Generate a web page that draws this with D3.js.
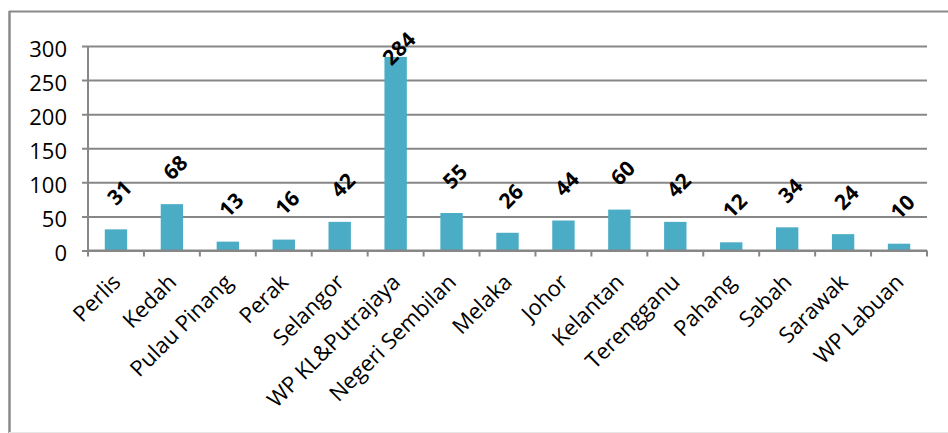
<!DOCTYPE html>
<html>
<head>
<meta charset="utf-8">
<script src="https://cdn.jsdelivr.net/npm/d3@7"></script>
<style>
  html, body { margin: 0; padding: 0; background: #fff; overflow: hidden; }
  svg { display: block; }
  text { font-family: "Open Sans", Lato, sans-serif; fill: #000; }
</style>
</head>
<body>
<svg id="chart" width="948" height="433"></svg>
<script>
// Counts per state
const states = ["Perlis", "Kedah", "Pulau Pinang", "Perak", "Selangor", "WP KL&Putrajaya",
  "Negeri Sembilan", "Melaka", "Johor", "Kelantan", "Terengganu", "Pahang", "Sabah",
  "Sarawak", "WP Labuan"];
const counts = [31, 68, 13, 16, 42, 284, 55, 26, 44, 60, 42, 12, 34, 24, 10];
const yTicks = [0, 50, 100, 150, 200, 250, 300];

const svg = d3.select("#chart");
const plot = { left: 88, right: 927, top: 46, bottom: 250.5 };
const gridColor = "#878787";
const barColor = "#4bacc6";

// Outer frame: top and left edges, faint bottom edge
svg.append("line").attr("x1", 9).attr("x2", 948).attr("y1", 11.5).attr("y2", 11.5)
  .attr("stroke", "#8a8a8a").attr("stroke-width", 2);
svg.append("line").attr("x1", 9.5).attr("x2", 9.5).attr("y1", 11).attr("y2", 433)
  .attr("stroke", "#8a8a8a").attr("stroke-width", 2.5);
svg.append("line").attr("x1", 9).attr("x2", 948).attr("y1", 432.5).attr("y2", 432.5)
  .attr("stroke", "#e6e6e6").attr("stroke-width", 1);

const x = d3.scaleBand().domain(states).range([plot.left, plot.right]).paddingInner(0).paddingOuter(0);
const y = d3.scaleLinear().domain([0, 300]).range([plot.bottom, plot.top]);

// Horizontal gridlines with y axis labels
const yAxis = d3.axisLeft(y).tickValues(yTicks).tickSize(-(plot.right - plot.left)).tickPadding(21);
const gy = svg.append("g").attr("transform", `translate(${plot.left},0)`).call(yAxis);
gy.select(".domain").remove();
gy.selectAll(".tick line").attr("stroke", gridColor).attr("stroke-width", 2).attr("x1", -6);
gy.selectAll(".tick text")
  .attr("font-size", 22)
  .attr("font-family", "'Open Sans', sans-serif")
  .attr("fill", "#000")
  .attr("dy", "0.32em")
  .attr("y", 3);

// Vertical axis line
svg.append("line")
  .attr("x1", plot.left).attr("x2", plot.left)
  .attr("y1", plot.top).attr("y2", plot.bottom)
  .attr("stroke", gridColor).attr("stroke-width", 2);

// Bars
const barW = x.bandwidth() / 2.5;
svg.append("g").selectAll("rect").data(states).join("rect")
  .attr("x", (d) => x(d) + (x.bandwidth() - barW) / 2)
  .attr("y", (d, i) => y(counts[i]))
  .attr("width", barW)
  .attr("height", (d, i) => y(0) - y(counts[i]))
  .attr("fill", barColor);

// Category axis with tick marks between categories
svg.append("line")
  .attr("x1", plot.left).attr("x2", plot.right)
  .attr("y1", plot.bottom).attr("y2", plot.bottom)
  .attr("stroke", gridColor).attr("stroke-width", 2);
const edges = states.map((d) => x(d)).concat([plot.right]);
svg.append("g").selectAll("line").data(edges).join("line")
  .attr("x1", (d) => d).attr("x2", (d) => d)
  .attr("y1", plot.bottom).attr("y2", plot.bottom + 6)
  .attr("stroke", gridColor).attr("stroke-width", 2);

// Rotated category labels, ending just right of each category centre
svg.append("g").selectAll("text").data(states).join("text")
  .attr("transform", (d) => `translate(${x(d) + x.bandwidth() / 2 + 6},${plot.bottom + 33}) rotate(-45)`)
  .attr("text-anchor", "end")
  .attr("font-size", 22)
  .text((d) => d);

// Value labels above bars, kept inside the plot area
svg.append("g").selectAll("text").data(states).join("text")
  .attr("transform", (d, i) => {
    const cx = x(d) + x.bandwidth() / 2 + 3;
    const cy = Math.max(y(counts[i]) - 37, plot.top + 2);
    return `translate(${cx},${cy}) rotate(-45)`;
  })
  .attr("text-anchor", "middle")
  .attr("dominant-baseline", "central")
  .attr("font-size", 21)
  .attr("font-weight", "bold")
  .text((d, i) => counts[i]);
</script>
</body>
</html>
